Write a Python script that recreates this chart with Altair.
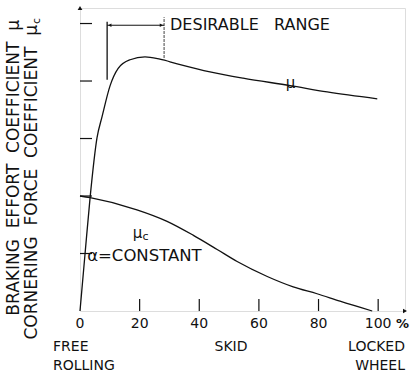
import altair as alt
import pandas as pd

FONT = "DejaVu Sans"
INK = "#111111"

# braking effort coefficient mu vs slip %
mu_x = [0, 1.7, 3.4, 5.7, 7.4, 10.1, 12.8, 16.8, 21.8, 26.8, 32.6, 43.6, 54.7, 70.5, 82.9, 99.7]
mu_y = [0, 1.0, 1.98, 3.01, 3.38, 3.92, 4.22, 4.37, 4.42, 4.38, 4.30, 4.16, 4.05, 3.92, 3.81, 3.69]
# cornering force coefficient mu_c vs slip %
muc_x = [0, 3.4, 19.1, 29.2, 37.9, 46.0, 52.7, 62.8, 71.5, 79.5, 87.2, 98.0]
muc_y = [2.0, 1.97, 1.76, 1.56, 1.32, 1.07, 0.86, 0.60, 0.42, 0.30, 0.17, 0.0]

x_ticks = [20, 40, 60, 80, 100]
x_tick_labels = ["0", "20", "40", "60", "80", "100"]
x_label_vals = [0, 20, 40, 60, 80, 100]
y_ticks = [1, 2, 3, 4, 5]

X_MAX = 109
Y_MAX = 5.27

xs = alt.Scale(domain=[0, X_MAX], nice=False, zero=False)
ys = alt.Scale(domain=[0, Y_MAX], nice=False, zero=False)

mu_df = pd.DataFrame({"x": mu_x, "y": mu_y})
muc_df = pd.DataFrame({"x": muc_x, "y": muc_y})

base_axis_x = alt.Axis(domain=True, ticks=False, labels=False, grid=False, title=None,
                       domainColor=INK, domainWidth=1.8)
base_axis_y = alt.Axis(domain=True, ticks=False, labels=False, grid=False, title=None,
                       domainColor=INK, domainWidth=1.8)

mu_line = alt.Chart(mu_df).mark_line(color=INK, strokeWidth=1.3, interpolate="monotone").encode(
    x=alt.X("x:Q", scale=xs, axis=base_axis_x),
    y=alt.Y("y:Q", scale=ys, axis=base_axis_y),
)
muc_line = alt.Chart(muc_df).mark_line(color=INK, strokeWidth=1.3, interpolate="monotone").encode(
    x=alt.X("x:Q", scale=xs, axis=None),
    y=alt.Y("y:Q", scale=ys, axis=None),
)

# inward ticks
yt = alt.Chart(pd.DataFrame({"y": y_ticks})).mark_rule(color=INK, strokeWidth=1.2).encode(
    y=alt.Y("y:Q", scale=ys, axis=None), x=alt.value(0), x2=alt.value(12))
xt = alt.Chart(pd.DataFrame({"x": x_ticks})).mark_rule(color=INK, strokeWidth=1.2).encode(
    x=alt.X("x:Q", scale=xs, axis=None), y=alt.value(303), y2=alt.value(291))

# axis arrowheads
arr_up = alt.Chart(pd.DataFrame({"x": [0], "y": [Y_MAX]})).mark_point(
    shape="triangle-up", filled=True, color=INK, size=22, opacity=1).encode(
    x=alt.X("x:Q", scale=xs, axis=None), y=alt.Y("y:Q", scale=ys, axis=None))
arr_right = alt.Chart(pd.DataFrame({"x": [X_MAX], "y": [0]})).mark_point(
    shape="triangle-right", filled=True, color=INK, size=22, opacity=1).encode(
    x=alt.X("x:Q", scale=xs, axis=None), y=alt.Y("y:Q", scale=ys, axis=None))

# tick labels
xl = alt.Chart(pd.DataFrame({"x": x_label_vals, "t": x_tick_labels})).mark_text(
    font=FONT, fontSize=14, color=INK, baseline="middle", align="center").encode(
    x=alt.X("x:Q", scale=xs, axis=None), y=alt.value(316), text="t:N")
pct = alt.Chart(pd.DataFrame({"t": ["%"]})).mark_text(
    font=FONT, fontSize=13, color=INK, baseline="middle", align="left", fontWeight="bold").encode(
    x=alt.value(316), y=alt.value(316), text="t:N")

# bottom captions
cap_left = alt.Chart(pd.DataFrame({"t": ["FREE", "ROLLING"], "yy": [339, 358]})).mark_text(
    font=FONT, fontSize=14, color=INK, baseline="middle", align="left").encode(
    x=alt.value(-27), y=alt.Y("yy:Q", scale=None), text="t:N")
cap_mid = alt.Chart(pd.DataFrame({"t": ["SKID"]})).mark_text(
    font=FONT, fontSize=14, color=INK, baseline="middle", align="center").encode(
    x=alt.value(151), y=alt.value(339), text="t:N")
cap_right = alt.Chart(pd.DataFrame({"t": ["LOCKED", "WHEEL"], "yy": [339, 358]})).mark_text(
    font=FONT, fontSize=14, color=INK, baseline="middle", align="right").encode(
    x=alt.value(325), y=alt.Y("yy:Q", scale=None), text="t:N")

# y titles (rotated)
NB = "\u00a0"
line1 = "BRAKING" + NB * 2 + "EFFORT" + NB * 2 + "COEFFICIENT" + NB * 2 + "\u03bc"
line2 = "CORNERING" + NB * 2 + "FORCE" + NB * 2 + "COEFFICIENT" + NB * 2 + "\u03bc"
yt1 = alt.Chart(pd.DataFrame({"t": [line1]})).mark_text(
    font=FONT, fontSize=17, color=INK, angle=270, baseline="middle", align="right").encode(
    x=alt.value(-66), y=alt.value(12), text="t:N")
yt2 = alt.Chart(pd.DataFrame({"t": [line2]})).mark_text(
    font=FONT, fontSize=17, color=INK, angle=270, baseline="middle", align="right").encode(
    x=alt.value(-48), y=alt.value(17), text="t:N")
yt2c = alt.Chart(pd.DataFrame({"t": ["c"]})).mark_text(
    font=FONT, fontSize=11, color=INK, angle=270, baseline="middle", align="left").encode(
    x=alt.value(-43), y=alt.value(16), text="t:N")

# desirable range annotation
rng_left = alt.Chart(pd.DataFrame({"x": [9.1], "y": [4.02], "y2": [5.03]})).mark_rule(
    color=INK, strokeWidth=1.3).encode(
    x=alt.X("x:Q", scale=xs, axis=None), y=alt.Y("y:Q", scale=ys, axis=None), y2="y2:Q")
rng_right = alt.Chart(pd.DataFrame({"x": [28.2], "y": [4.40], "y2": [5.11]})).mark_rule(
    color=INK, strokeWidth=0.8, strokeDash=[3, 1]).encode(
    x=alt.X("x:Q", scale=xs, axis=None), y=alt.Y("y:Q", scale=ys, axis=None), y2="y2:Q")
rng_h = alt.Chart(pd.DataFrame({"x": [9.1], "x2": [28.2], "y": [4.97]})).mark_rule(
    color=INK, strokeWidth=1.0).encode(
    x=alt.X("x:Q", scale=xs, axis=None), x2="x2:Q", y=alt.Y("y:Q", scale=ys, axis=None))
rng_arrows = alt.Chart(pd.DataFrame({"x": [10.0, 27.3], "y": [4.97, 4.97],
                                     "s": ["triangle-left", "triangle-right"]})).mark_point(
    filled=True, color=INK, size=14, opacity=1).encode(
    x=alt.X("x:Q", scale=xs, axis=None), y=alt.Y("y:Q", scale=ys, axis=None),
    shape=alt.Shape("s:N", scale=None))
rng_text = alt.Chart(pd.DataFrame({"x": [30.2], "y": [4.97], "t": ["DESIRABLE" + NB * 3 + "RANGE"]})).mark_text(
    font=FONT, fontSize=16, color=INK, baseline="middle", align="left").encode(
    x=alt.X("x:Q", scale=xs, axis=None), y=alt.Y("y:Q", scale=ys, axis=None), text="t:N")

# curve labels
mu_lbl = alt.Chart(pd.DataFrame({"x": [70.6], "y": [3.97], "t": ["\u03bc"]})).mark_text(
    font=FONT, fontSize=15, color=INK, baseline="middle", align="center").encode(
    x=alt.X("x:Q", scale=xs, axis=None), y=alt.Y("y:Q", scale=ys, axis=None), text="t:N")
muc_lbl = alt.Chart(pd.DataFrame({"x": [19.3], "y": [1.36], "t": ["\u03bc"]})).mark_text(
    font=FONT, fontSize=15, color=INK, baseline="middle", align="center").encode(
    x=alt.X("x:Q", scale=xs, axis=None), y=alt.Y("y:Q", scale=ys, axis=None), text="t:N")
muc_sub = alt.Chart(pd.DataFrame({"x": [21.0], "y": [1.28], "t": ["c"]})).mark_text(
    font=FONT, fontSize=11, color=INK, baseline="middle", align="left").encode(
    x=alt.X("x:Q", scale=xs, axis=None), y=alt.Y("y:Q", scale=ys, axis=None), text="t:N")
alpha_lbl = alt.Chart(pd.DataFrame({"x": [2.4], "y": [0.96], "t": ["\u03b1=CONSTANT"]})).mark_text(
    font=FONT, fontSize=16.5, color=INK, baseline="middle", align="left").encode(
    x=alt.X("x:Q", scale=xs, axis=None), y=alt.Y("y:Q", scale=ys, axis=None), text="t:N")

chart = alt.layer(
    mu_line, muc_line, yt, xt, arr_up, arr_right, xl, pct, cap_left, cap_mid, cap_right,
    yt1, yt2, yt2c, rng_left, rng_right, rng_h, rng_arrows, rng_text,
    mu_lbl, muc_lbl, muc_sub, alpha_lbl,
).properties(
    width=325, height=303,
    autosize=alt.AutoSizeParams(type="none"),
    padding={"left": 80, "top": 8, "right": 5, "bottom": 63},
).configure_view(stroke=None).configure(background="white")

chart.save("out.html", embed_options={"renderer": "svg", "actions": False})
